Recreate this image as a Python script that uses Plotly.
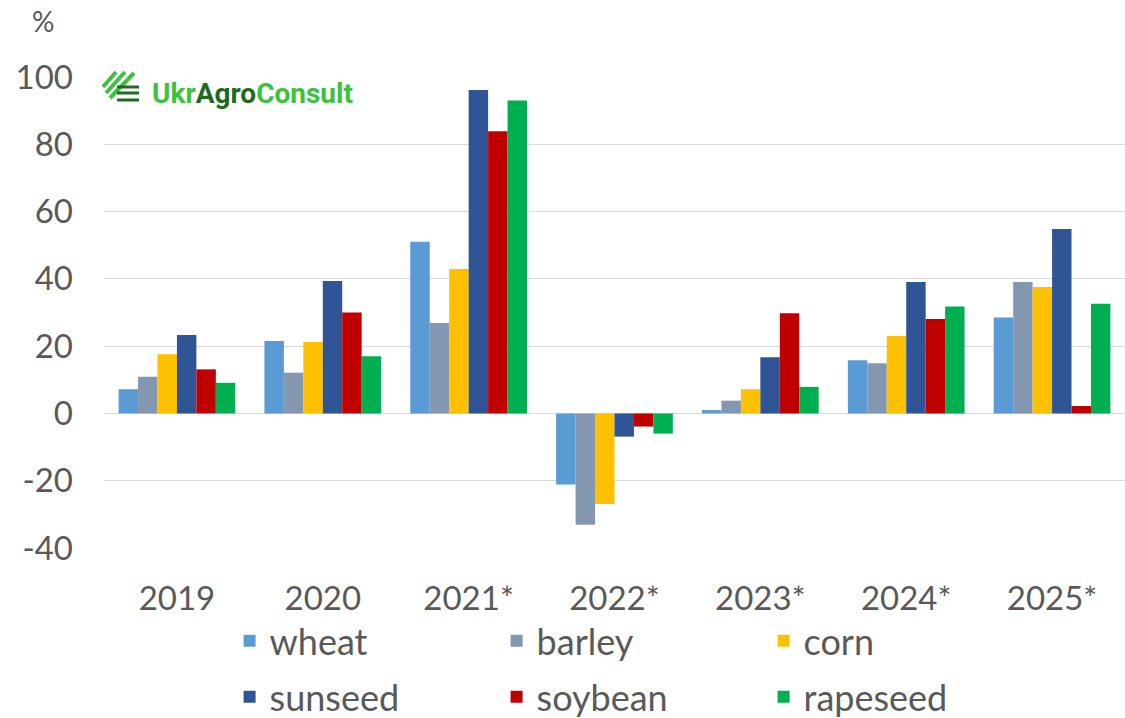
import plotly.graph_objects as go

# дані: зміна, %
years = ["2019", "2020", "2021*", "2022*", "2023*", "2024*", "2025*"]
wheat = [7.2, 21.5, 51.0, -21.1, 1.0, 15.8, 28.5]
barley = [10.9, 12.1, 26.9, -33.1, 3.8, 14.9, 39.1]
corn = [17.6, 21.2, 42.9, -26.9, 7.2, 23.0, 37.6]
sunseed = [23.3, 39.4, 96.1, -6.9, 16.7, 39.1, 54.8]
soybean = [13.1, 30.0, 83.9, -3.9, 29.8, 28.1, 2.2]
rapeseed = [9.1, 17.0, 93.0, -6.0, 7.9, 31.8, 32.6]
y_ticks = [-40, -20, 0, 20, 40, 60, 80, 100]

series = [
    ("wheat", wheat, "#5B9BD5", "legend"),
    ("barley", barley, "#8497B0", "legend"),
    ("corn", corn, "#FFC000", "legend"),
    ("sunseed", sunseed, "#2F5597", "legend2"),
    ("soybean", soybean, "#C00000", "legend2"),
    ("rapeseed", rapeseed, "#00B050", "legend2"),
]

W, H = 1125, 718
L, R, T, B = 104, 0, 77, 170
PW, PH = W - L - R, H - T - B
FONT = "Lato"
GREY = "#595959"


def px2paper(x, y):
    return (x - L) / PW, (H - B - y) / PH


fig = go.Figure()
for name, vals, col, leg in series:
    fig.add_trace(go.Bar(
        name=name, x=years, y=vals, legend=leg,
        marker=dict(color=col, line=dict(width=0)),
    ))

# логотип UkrAgroConsult
shapes = []
for (x0, y0, x1, y1) in [(103, 87, 116, 72), (106, 93, 125, 72), (110, 98, 134, 73)]:
    a0, b0 = px2paper(x0, y0)
    a1, b1 = px2paper(x1, y1)
    shapes.append(dict(type="line", xref="paper", yref="paper", x0=a0, y0=b0,
                       x1=a1, y1=b1, line=dict(color="#3CC23C", width=4)))
for yy in [87, 93, 100]:
    a0, b0 = px2paper(117, yy)
    a1, b1 = px2paper(139, yy)
    shapes.append(dict(type="line", xref="paper", yref="paper", x0=a0, y0=b0,
                       x1=a1, y1=b1, line=dict(color="#1E6B1E", width=3)))

lx, ly = px2paper(150, 93)
px_, py_ = px2paper(43, 21)
annotations = [
    dict(xref="paper", yref="paper", x=lx, y=ly, xanchor="left", yanchor="middle",
         showarrow=False,
         text="<b><span style='color:#3CC23C'>Ukr</span>"
              "<span style='color:#1E6B1E'>Agro</span>"
              "<span style='color:#3CC23C'>Consult</span></b>",
         font=dict(family="Roboto", size=28)),
    dict(xref="paper", yref="paper", x=px_, y=py_, xanchor="center", yanchor="middle",
         showarrow=False, text="%", font=dict(family=FONT, size=28, color=GREY)),
]

leg_common = dict(orientation="h", xanchor="left", yanchor="middle",
                  entrywidthmode="pixels", entrywidth=222,
                  font=dict(family=FONT, size=36, color=GREY),
                  bgcolor="rgba(0,0,0,0)")

fig.update_layout(
    width=W, height=H,
    margin=dict(l=L, r=R, t=T, b=B, autoexpand=False),
    plot_bgcolor="white", paper_bgcolor="white",
    barmode="group", bargap=0.2, bargroupgap=0,
    font=dict(family=FONT, color=GREY),
    showlegend=True,
    legend=dict(x=0.123, y=-0.197, **leg_common),
    legend2=dict(x=0.123, y=-0.316, **leg_common),
    shapes=shapes,
    annotations=annotations,
)
fig.update_xaxes(
    showgrid=False, showline=False, zeroline=False, automargin=False,
    tickfont=dict(family=FONT, size=33, color=GREY),
    ticklabelstandoff=28,
)
fig.update_yaxes(
    range=[-40, 100], tickvals=y_ticks, ticktext=[str(v) for v in y_ticks],
    showgrid=True, gridcolor="#D9D9D9", gridwidth=1.3,
    zeroline=False, showline=False, automargin=False,
    tickfont=dict(family=FONT, size=33, color=GREY),
    ticklabelstandoff=30,
)

# прибрати стандартний відступ body, щоб фігура стала в кут вікна
fig.write_html("out.html", config={"displayModeBar": False},
               post_script="document.body.style.margin='0px';")
